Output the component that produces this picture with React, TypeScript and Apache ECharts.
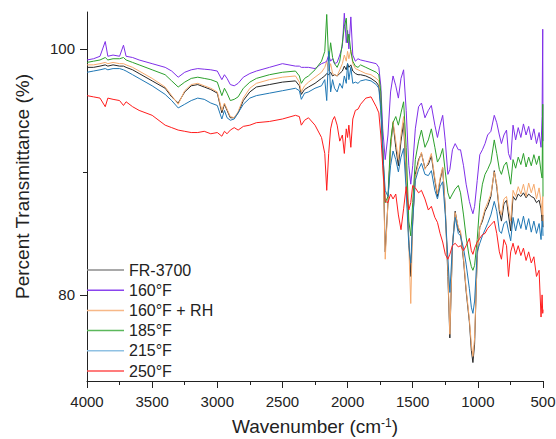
import { useEffect, useRef } from "react";
import * as echarts from "echarts";

const wavenumbers = [
  4000, 3950, 3900, 3860, 3840, 3800, 3750, 3720, 3700, 3650, 3600, 3500, 3400, 3350, 3300, 3250, 3200, 3150, 3100, 3050, 3000,
  2965, 2945, 2925, 2900, 2870, 2840, 2800, 2750, 2700, 2600, 2500, 2400, 2370, 2355, 2330, 2300, 2250, 2200,
  2175, 2160, 2145, 2130, 2115, 2100, 2080, 2060, 2040, 2025, 2010, 2000, 1990, 1975, 1960, 1940, 1920, 1900, 1860, 1820, 1780, 1760,
  1745, 1730, 1711, 1690, 1670, 1651, 1630, 1610, 1590, 1570, 1550, 1530, 1515, 1500, 1480, 1455, 1433, 1406, 1380, 1357, 1330, 1310, 1290, 1270, 1250,
  1230, 1215, 1195, 1174, 1150, 1133, 1110, 1090, 1065, 1050, 1038, 1025, 1005, 985, 965, 945, 925, 900, 874, 855, 835, 819,
  800, 780, 765, 748, 730, 710, 690, 670, 650, 630, 610, 590, 570, 550, 530, 515, 507, 502, 500,
];

const fr3700 = [
  98.5, 98.5, 98.6, 98.7, 98.6, 98.7, 98.6, 98.6, 98.5, 98.3, 98.0, 97.4, 96.8, 96.1, 95.6, 96.5, 97.0, 97.1, 96.9, 96.7, 96.4,
  94.8, 95.5, 95.0, 94.4, 94.4, 94.8, 95.8, 96.5, 96.9, 97.1, 97.3, 97.4, 97.0, 96.3, 96.7, 96.9, 97.2, 97.6,
  97.8, 98.0, 97.9, 98.1, 97.8, 97.9, 97.8, 98.0, 98.2, 98.6, 98.3, 98.8, 98.5, 98.7, 98.2, 98.0, 97.9, 97.9, 97.8, 97.6, 97.3, 97.0,
  95.5, 92.0, 83.5, 87.5, 92.0, 94.0, 92.0, 90.5, 92.5, 94.0, 89.5, 84.5, 81.5, 86.0, 89.8, 91.0, 91.5, 90.3, 90.6, 91.3, 89.3, 88.0, 89.3, 90.3, 87.0,
  81.5, 76.5, 84.0, 86.8, 85.3, 85.0, 82.8, 80.3, 77.8, 75.5, 74.5, 76.0, 83.2, 85.5, 86.0, 86.8, 87.2, 88.0, 90.1, 88.8, 86.8, 86.0,
  87.4, 87.7, 86.5, 85.2, 88.0, 87.7, 88.2, 88.0, 88.3, 87.9, 88.2, 88.0, 87.9, 87.5, 87.7, 87.0, 86.0, 86.5, 85.5,
];

const f160 = [
  99.1, 99.2, 99.4, 100.6, 99.4, 99.5, 99.4, 100.3, 99.4, 99.3, 99.1, 98.8, 98.5, 98.2, 97.7, 98.1, 98.3, 98.4, 98.35, 98.3, 98.2,
  97.5, 97.9, 97.6, 97.1, 97.0, 97.2, 97.7, 98.0, 98.2, 98.5, 98.8, 98.6, 98.6, 98.5, 98.5, 98.5, 98.4, 98.8,
  98.9, 99.0, 99.5, 99.0, 99.2, 98.8, 98.9, 99.5, 100.2, 102.9, 100.5, 101.5, 100.0, 102.6, 99.5, 99.0, 99.2, 99.1, 99.0, 98.9, 98.8, 98.5,
  97.0, 93.5, 91.0, 93.0, 96.5, 97.8, 97.0, 96.0, 97.6, 98.3, 95.0, 90.5, 89.0, 90.5, 93.5, 95.3, 95.6, 94.4, 95.0, 95.4, 93.8, 92.8, 93.8, 94.6, 92.5,
  89.8, 90.2, 91.8, 92.3, 91.8, 91.8, 90.5, 89.0, 87.6, 87.0, 86.6, 87.2, 89.3, 91.4, 91.8, 92.3, 93.0, 93.3, 94.6, 94.0, 93.0, 92.3,
  93.0, 93.4, 91.5, 91.0, 93.8, 92.6, 93.6, 92.8, 93.9, 93.0, 93.7, 92.6, 93.5, 92.3, 93.2, 92.0, 94.5, 101.6, 92.5,
];

const f160rh = [
  98.7, 98.7, 98.8, 98.9, 98.8, 98.9, 98.8, 98.8, 98.7, 98.5, 98.2, 97.6, 96.9, 96.2, 95.5, 96.6, 97.1, 97.2, 97.0, 96.8, 96.5,
  95.0, 95.6, 95.1, 94.5, 94.4, 94.9, 96.0, 96.8, 97.2, 97.5, 97.7, 97.8, 97.3, 96.5, 97.0, 97.3, 97.7, 98.1,
  98.5, 99.0, 98.2, 98.8, 98.0, 97.9, 97.8, 98.3, 98.8, 99.5, 99.0, 99.8, 99.2, 99.9, 98.8, 98.4, 98.3, 98.2, 98.0, 97.9, 97.6, 97.4,
  96.0, 92.0, 82.9, 87.5, 92.0, 94.1, 92.5, 91.0, 93.0, 94.5, 90.0, 84.0, 79.3, 86.0, 89.5, 90.8, 91.6, 90.2, 90.8, 91.5, 89.5, 88.2, 89.5, 90.4, 87.0,
  82.0, 76.8, 84.0, 86.7, 85.5, 85.2, 83.0, 80.5, 78.0, 76.0, 75.0, 76.5, 83.0, 85.5, 86.2, 87.0, 87.5, 88.2, 90.0, 89.0, 87.0, 86.5,
  87.8, 88.0, 87.0, 86.0, 88.5, 88.0, 88.8, 88.2, 89.0, 88.0, 89.1, 88.3, 89.0, 87.8, 88.7, 87.5, 86.5, 88.0, 86.0,
];

const f185 = [
  98.9, 99.0, 99.1, 99.3, 99.1, 99.2, 99.2, 99.3, 99.1, 98.9, 98.7, 98.3, 97.9, 97.4, 96.9, 97.3, 97.6, 97.7, 97.6, 97.5, 97.3,
  96.2, 96.8, 96.4, 95.8, 95.9, 96.1, 96.8, 97.3, 97.6, 97.9, 98.1, 98.2, 97.8, 97.2, 97.6, 97.8, 98.3, 99.0,
  99.8, 102.8, 99.0, 100.5, 99.3, 98.8, 98.5, 99.0, 100.5, 101.8, 102.5, 100.5, 101.2, 99.8, 99.0, 98.6, 98.5, 98.7, 98.5, 98.3, 98.1, 97.9,
  96.5, 92.0, 87.5, 88.0, 92.5, 94.0, 94.5, 93.8, 94.8, 95.7, 92.0, 86.0, 84.8, 87.5, 91.0, 92.5, 93.4, 92.0, 92.6, 93.5, 92.0, 90.8, 91.2, 91.9, 90.0,
  88.3, 87.8, 88.2, 88.6, 88.9, 88.3, 86.5, 84.7, 83.0, 82.3, 82.0, 82.4, 84.5, 87.5, 89.0, 89.8, 90.2, 90.8, 92.6, 91.5, 90.2, 89.8,
  90.5, 90.8, 90.0, 89.0, 91.0, 90.3, 91.2, 90.6, 91.5, 90.4, 91.2, 90.5, 91.4, 90.6, 91.3, 90.0, 89.5, 95.5, 88.0,
];

const f215 = [
  98.1, 98.2, 98.3, 98.4, 98.3, 98.4, 98.4, 98.3, 98.2, 97.9, 97.6, 97.0, 96.3, 95.8, 95.2, 95.5, 95.8, 96.0, 95.9, 95.6, 95.4,
  94.3, 95.0, 94.4, 94.2, 94.3, 94.8, 95.5, 96.0, 96.2, 96.4, 96.6, 96.8, 96.6, 95.9, 96.4, 96.5, 96.8, 97.0,
  97.5, 95.8, 99.8, 96.5, 97.5, 96.8, 96.5, 97.2, 96.8, 97.8, 97.2, 98.8, 97.5, 98.5, 97.2, 97.3, 97.2, 97.4, 97.5, 97.4, 97.1, 96.8,
  95.0, 91.5, 88.5, 88.0, 90.5, 91.7, 91.0, 90.0, 91.2, 91.9, 88.5, 84.0, 82.6, 86.0, 89.3, 90.2, 90.7, 89.8, 89.7, 90.1, 88.5, 87.8, 88.8, 89.2, 86.5,
  83.0, 80.2, 84.0, 86.3, 85.0, 84.8, 83.8, 82.5, 80.5, 79.0, 78.5, 79.5, 83.5, 84.2, 84.8, 85.3, 85.8, 86.5, 87.6, 86.8, 85.2, 85.0,
  85.8, 86.0, 85.2, 84.4, 86.3, 85.2, 86.2, 85.4, 86.4, 85.3, 86.2, 85.1, 86.0, 85.0, 85.8, 84.5, 86.0, 85.5, 84.8,
];

const f250 = [
  96.2, 96.1, 96.0, 95.3, 96.0, 95.9, 95.8, 95.4, 95.7, 95.3, 95.0, 94.6, 93.8, 93.6, 93.4, 93.3, 93.2, 93.2, 93.3, 93.1, 93.2,
  92.9, 93.3, 93.1, 93.4, 93.6, 93.4, 93.7, 93.8, 94.0, 94.1, 94.3, 94.6, 94.5, 93.8, 94.2, 94.4, 93.8, 92.8,
  91.5, 88.5, 91.5, 93.5, 94.2, 94.5, 93.8, 92.5, 93.0, 91.5, 93.5, 92.8, 93.8, 92.0, 94.3, 95.0, 95.1, 95.5, 96.0, 96.1, 95.3, 94.8,
  93.0, 90.5, 87.6, 87.5, 88.2, 87.8, 88.2, 86.5, 85.3, 87.0, 88.8, 86.9, 87.5, 88.9, 88.7, 88.3, 88.5, 87.8, 86.9, 87.2, 86.3, 85.9, 85.0, 84.3, 83.3,
  82.9, 83.3, 84.0, 84.2, 83.9, 84.0, 83.6, 84.0, 84.6, 83.6, 83.3, 83.8, 84.3, 84.6, 84.9, 85.0, 85.4, 85.7, 86.0, 85.0, 83.5, 82.9,
  84.5, 84.0, 81.5, 83.5, 84.2, 83.3, 84.0, 83.2, 83.8, 82.8, 83.5, 82.6, 83.1, 81.5, 82.0, 78.2, 80.0, 78.5, 78.8,
];

const seriesNames = ["FR-3700", "160°F", "160°F + RH", "185°F", "215°F", "250°F"];
const seriesValues = [fr3700, f160, f160rh, f185, f215, f250];
const seriesColors = ["#262626", "#7f2fe8", "#f5a96c", "#2ca02c", "#1f77b4", "#ff1c1c"];
const legendColors = ["#8c8c8c", "#8a44ee", "#f7b888", "#5bb85b", "#8fc1e3", "#ff5050"];
const drawOrder = [0, 2, 1, 3, 4, 5];

const yLabelValues = [80, 100];
const yMinorValues = [90];

const FONT = "'Liberation Sans', Arial, sans-serif";

export default function App() {
  const ref = useRef<HTMLDivElement>(null);
  useEffect(() => {
    if (!ref.current) return;
    const chart = echarts.init(ref.current, undefined, { renderer: "svg" });
    const series = drawOrder.map((i) => ({
      name: seriesNames[i],
      type: "line",
      yAxisIndex: 0,
      data: wavenumbers.map((w, k) => [w, seriesValues[i][k]]),
      symbol: "none",
      showSymbol: false,
      lineStyle: { width: 1, color: seriesColors[i] },
      itemStyle: { color: seriesColors[i] },
      emphasis: { disabled: true },
    }));
    chart.setOption({
      animation: false,
      backgroundColor: "#ffffff",
      grid: { left: 87, right: 13, top: 12, bottom: 58, containLabel: false, outerBoundsMode: "none" },
      legend: {
        orient: "vertical",
        left: 87,
        top: 262,
        padding: 0,
        icon: "rect",
        itemWidth: 37,
        itemHeight: 1.5,
        itemGap: 4.2,
        selectedMode: false,
        textStyle: { fontSize: 16, color: "#222", fontFamily: FONT, lineHeight: 16 },
        data: seriesNames.map((n, i) => ({
          name: n,
          icon: "rect",
          itemStyle: { color: legendColors[i], borderWidth: 0 },
        })),
      },
      xAxis: {
        type: "value",
        min: 500,
        max: 4000,
        interval: 500,
        inverse: true,
        axisLine: { show: true, onZero: false, lineStyle: { color: "#222", width: 1 } },
        axisTick: { show: true, length: 7, lineStyle: { color: "#222" } },
        minorTick: { show: true, splitNumber: 2, length: 4, lineStyle: { color: "#222" } },
        axisLabel: {
          fontSize: 15,
          color: "#222",
          margin: 13,
          fontFamily: FONT,
          showMinLabel: true,
          showMaxLabel: true,
          formatter: (v: number) => String(v),
        },
        splitLine: { show: false },
        name: "Wavenumber (cm{sup|-1})",
        nameLocation: "middle",
        nameGap: 36,
        nameTextStyle: {
          fontSize: 19,
          color: "#222",
          fontFamily: FONT,
          rich: { sup: { fontSize: 12, fontFamily: FONT, color: "#222", verticalAlign: "top", lineHeight: 12 } },
        },
      },
      yAxis: [
        {
          type: "value",
          min: 73,
          max: 103,
          position: "left",
          axisLine: { show: true, onZero: false, lineStyle: { color: "#222", width: 1 } },
          axisTick: { show: true, length: 7, customValues: yLabelValues, lineStyle: { color: "#222" } },
          axisLabel: { customValues: yLabelValues, fontSize: 15, color: "#222", margin: 12, fontFamily: FONT },
          splitLine: { show: false },
          name: "Percent Transmittance (%)",
          nameLocation: "middle",
          nameGap: 55,
          nameTextStyle: { fontSize: 19, color: "#222", fontFamily: FONT, padding: [0, 0, 0, 20] },
        },
        {
          type: "value",
          min: 73,
          max: 103,
          position: "left",
          axisLine: { show: false },
          axisTick: { show: true, length: 4, customValues: yMinorValues, lineStyle: { color: "#222" } },
          axisLabel: { show: false },
          splitLine: { show: false },
        },
      ],
      series,
    });
    return () => chart.dispose();
  }, []);
  return <div ref={ref} style={{ position: "fixed", left: 0, top: 0, width: 556, height: 439 }} />;
}
